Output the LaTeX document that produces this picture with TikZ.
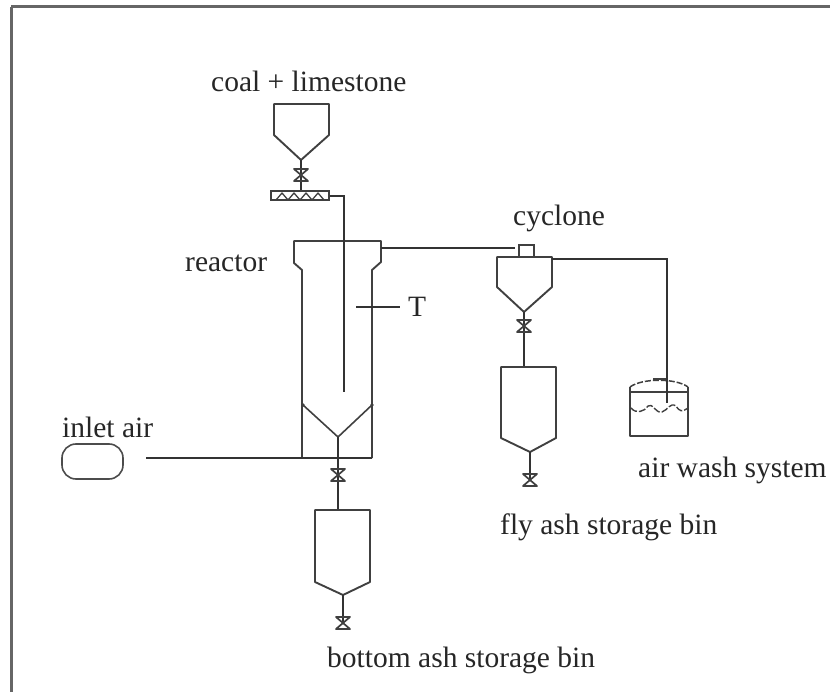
\documentclass[tikz,border=0pt]{standalone}
\usepackage{fontspec}
\setmainfont{Liberation Serif}
\usetikzlibrary{positioning}
\tikzset{
    vessel/.style={draw=black!75, line width=1.9pt, line join=round},
    pipe/.style={draw=black!80, line width=1.9pt},
    tag/.style={font=\fontsize{29.5}{30}\selectfont, text=black!85, inner sep=0pt, anchor=west},
    valve/.pic={\draw[vessel, line width=1.7pt] (-7,-6) -- (7,-6) -- (-7,6) -- (7,6) -- cycle;}
}

\begin{document}
\begin{tikzpicture}[x=1pt, y=-1pt]
    \useasboundingbox (0,0) rectangle (830,692);
    \draw[draw=black!60, line width=3pt] (11,7) -- (830,7) (11,7) -- (11,692);

    % labels
    \node (feedlabel) [tag] at (211,81) {coal + limestone};
    \node (reactorlabel) [tag] at (185,263) {reactor};
    \node (cyclonelabel) [tag] at (513,218) {cyclone};
    \node (templabel) [tag] at (408,307) {T};
    \node (inletlabel) [tag] at (62,427) {inlet air};
    \node (washlabel) [tag] at (638,470) {air wash system};
    \node (flylabel) [tag] at (500,527) {fly ash storage bin};
    \node (bottomlabel) [tag] at (327,660) {bottom ash storage bin};

    % feed hopper and screw
    \draw[vessel] (274,104) -- (329,104) -- (329,135) -- (301,160) -- (274,135) -- cycle;
    \node (screw) [draw=black!75, line width=2pt, minimum width=58pt, minimum height=9pt, inner sep=0pt] at (300,196) {};
    \draw[vessel, line width=1.3pt] (276,200) -- (282,193) -- (288,200) -- (294,193) -- (300,200) -- (306,193) -- (312,200) -- (318,193) -- (324,200);
    \coordinate (feedtip) at (301,160);
    \draw[pipe] (feedtip) -- (screw.north -| feedtip);
    \pic at (301,175) {valve};

    % reactor
    \draw[vessel] (302,458) -- (302,270) -- (294,263) -- (294,241) -- (381,241) -- (381,262) -- (372,270) -- (372,458);
    \coordinate (lanceend) at (344,392);
    \draw[pipe] (screw.east) -| (lanceend);
    \draw[pipe] (356,307) -- (400,307);
    \draw[vessel, line width=1.6pt] (303,405) -- (338,437) -- (372,405);
    \fill[black!75] (303,405) circle (1.8) (372,405) circle (1.8);

    % air inlet
    \node (blower) [draw=black!70, line width=1.6pt, rounded corners=14pt, minimum width=61pt, minimum height=35pt, inner sep=0pt] at (92.5,461.5) {};
    \coordinate (airstart) at (146,458);
    \draw[pipe] (airstart) -- (372,458);

    % bottom ash bin
    \coordinate (bedtip) at (338,437);
    \coordinate (bottomtop) at (338,510);
    \draw[pipe] (bedtip) -- (bottomtop);
    \pic at (338,475) {valve};
    \draw[vessel] (315,510) -- (370,510) -- (370,582) -- (343,595) -- (315,582) -- cycle;
    \coordinate (bottomtip) at (343,595);
    \coordinate (bottomout) at (343,623);
    \draw[pipe] (bottomtip) -- (bottomout);
    \pic at (343,623) {valve};

    % cyclone
    \node (cycinlet) [draw=black!75, line width=1.6pt, minimum width=15pt, minimum height=12pt, inner sep=0pt] at (526.5,251) {};
    \coordinate (ductend) at (515,248);
    \draw[pipe] (381,248) -- (ductend);
    \draw[vessel] (497,257) -- (552,257) -- (552,287) -- (524,312) -- (497,287) -- cycle;

    % fly ash bin
    \coordinate (cyctip) at (524,312);
    \coordinate (flytop) at (524,367);
    \draw[pipe] (cyctip) -- (flytop);
    \pic at (524,326) {valve};
    \draw[vessel] (501,367) -- (556,367) -- (556,438) -- (530,452) -- (501,438) -- cycle;
    \coordinate (flytip) at (530,452);
    \coordinate (flyout) at (530,480);
    \draw[pipe] (flytip) -- (flyout);
    \pic at (530,480) {valve};

    % air wash
    \draw[vessel] (630,387) -- (630,436) -- (688,436) -- (688,387);
    \draw[vessel, line width=1.3pt] (630,392) -- (688,392);
    \draw[vessel, line width=1.5pt, dash pattern=on 6pt off 2pt] (630,387) .. controls (642,378) and (676,378) .. (688,387);
    \draw[vessel, line width=1.5pt] (653,379) -- (667,379);
    \draw[vessel, line width=1.4pt, dash pattern=on 7pt off 2pt] (631,408) .. controls (636,414) and (644,412) .. (648,406) .. controls (652,402) and (656,414) .. (662,412) .. controls (668,410) and (670,402) .. (676,406) .. controls (680,412) and (682,412) .. (688,408);
    \coordinate (washin) at (667,403);
    \draw[pipe] (552,259) -| (washin);
\end{tikzpicture}
\end{document}
